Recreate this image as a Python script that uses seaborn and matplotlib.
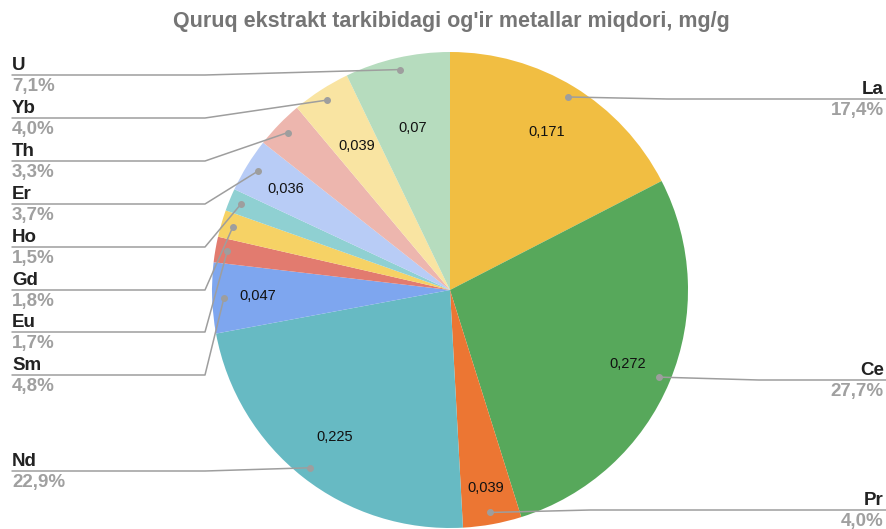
import numpy as np
import matplotlib
matplotlib.use("Agg")
import matplotlib.pyplot as plt
import seaborn as sns

# ---- data ----
elements = ["La", "Ce", "Pr", "Nd", "Sm", "Eu", "Gd", "Ho", "Er", "Th", "Yb", "U"]
values = [0.171, 0.272, 0.039, 0.225, 0.047, 0.017, 0.018, 0.015, 0.036, 0.032, 0.039, 0.070]
value_labels = ["0,171", "0,272", "0,039", "0,225", "0,047", "", "", "", "0,036", "", "0,039", "0,07"]
pct_labels = ["17,4%", "27,7%", "4,0%", "22,9%", "4,8%", "1,7%", "1,8%", "1,5%", "3,7%", "3,3%", "4,0%", "7,1%"]
colors = ["#F1BE42", "#57A85B", "#EC7633", "#67BAC3", "#7EA6EF", "#E27B6F",
          "#F6D265", "#8FD0D2", "#B8CCF6", "#EDB6AE", "#F9E4A2", "#B6DCBE"]
title = "Quruq ekstrakt tarkibidagi og'ir metallar miqdori, mg/g"

# ---- layout (pixel coords, y measured from top) ----
W, H = 886, 529
CX, CY, R = 450, 290, 238
left_label_y = {"U": 75, "Yb": 118, "Th": 161, "Er": 204, "Ho": 247,
                "Gd": 290, "Eu": 332, "Sm": 375, "Nd": 471}
right_label_y = {"La": 99, "Ce": 380, "Pr": 510}
inner_r = {"La": 0.78, "Ce": 0.81, "Pr": 0.845, "Nd": 0.785, "Sm": 0.81,
           "Er": 0.81, "Yb": 0.72, "U": 0.70}

sns.set_theme(style="white")
plt.rcParams["font.family"] = ["Liberation Sans", "DejaVu Sans"]

fig = plt.figure(figsize=(W / 100, H / 100), dpi=100)
ax = fig.add_axes([0, 0, 1, 1])
ax.set_xlim(0, W)
ax.set_ylim(0, H)
ax.set_aspect("equal")
ax.axis("off")

def py(y):
    return H - y

wedges, _ = ax.pie(values, colors=colors, startangle=90, counterclock=False,
                   center=(CX, py(CY)), radius=R, frame=True,
                   wedgeprops=dict(linewidth=0))
ax.set_xlim(0, W)
ax.set_ylim(0, H)
ax.axis("off")

line_col = "#9E9E9E"
for w, name, vl, pl in zip(wedges, elements, value_labels, pct_labels):
    mid = np.deg2rad((w.theta1 + w.theta2) / 2)
    dx, dy = np.cos(mid), np.sin(mid)
    if vl:
        rr = inner_r.get(name, 0.8) * R
        ax.text(CX + rr * dx, py(CY) + rr * dy, vl, ha="center", va="center",
                fontsize=10.5, color="#111111")
    px, pyy = CX + 0.95 * R * dx, py(CY) + 0.95 * R * dy
    ax.plot([px], [pyy], marker="o", ms=4, color=line_col, zorder=5)
    if name in left_label_y:
        ly = py(left_label_y[name])
        ax.plot([12, 205, px], [ly, ly, pyy], color=line_col, lw=1.1, zorder=4)
        ax.text(12, ly + 5, name, ha="left", va="baseline", fontsize=13.5,
                fontweight="bold", color="#222222")
        ax.text(12, ly - 3, pl, ha="left", va="top", fontsize=13.5,
                fontweight="bold", color="#A0A0A0")
    else:
        ly = py(right_label_y[name])
        ax.plot([px, px + 100, W], [pyy, ly, ly], color=line_col, lw=1.1, zorder=4)
        ax.text(W - 2, ly + 5, name, ha="right", va="baseline", fontsize=13.5,
                fontweight="bold", color="#222222")
        ax.text(W - 2, ly - 3, pl, ha="right", va="top", fontsize=13.5,
                fontweight="bold", color="#A0A0A0")

ax.text(451, py(21), title, ha="center", va="center", fontsize=15.5,
        fontweight="bold", color="#757575")

fig.savefig("out.png", dpi=100)
